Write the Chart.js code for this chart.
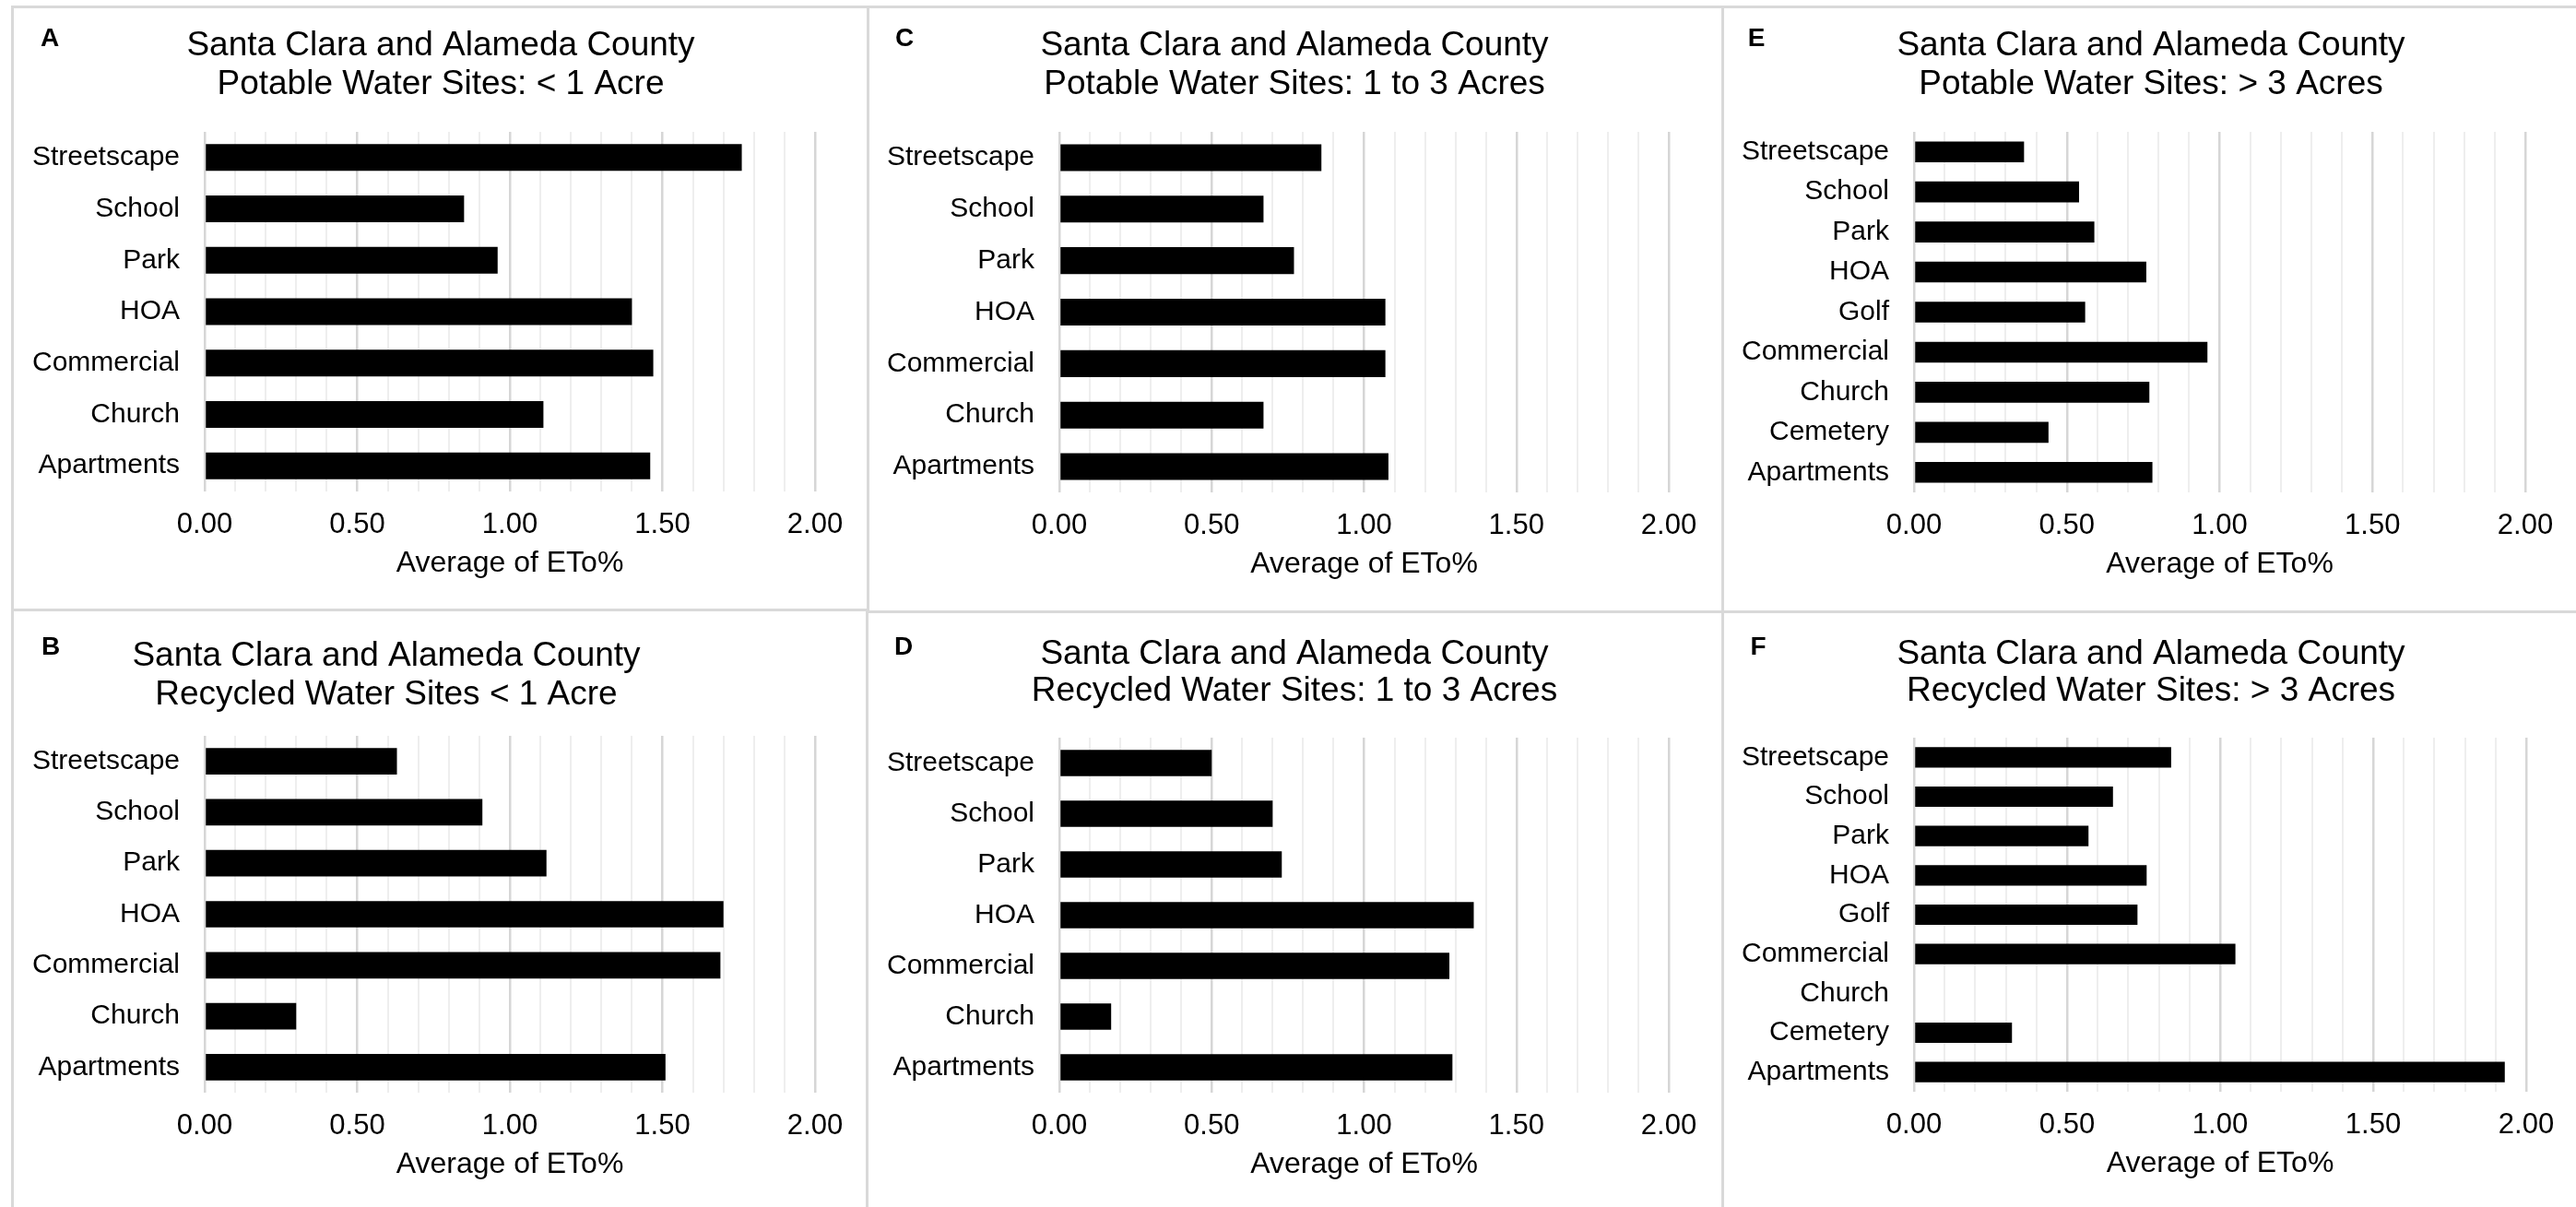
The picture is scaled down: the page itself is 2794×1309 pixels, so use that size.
<!DOCTYPE html>
<html>
<head>
<meta charset="utf-8">
<title>ETo% by site type</title>
<script src="https://cdn.jsdelivr.net/npm/chart.js@4/dist/chart.umd.min.js"></script>
<style>
  html, body { margin: 0; padding: 0; background: #fff; }
  body { width: 2794px; height: 1309px; position: relative; overflow: hidden; }
  .panel { position: absolute; }
  .panel canvas { position: absolute; left: 0; top: 0; }
  .rule { position: absolute; background: #d9d9d9; z-index: 5; }
</style>
</head>
<body>
<div id="figure"></div>
<script>
// ---- data ----
const sevenTypes = ['Streetscape', 'School', 'Park', 'HOA', 'Commercial', 'Church', 'Apartments'];
const nineTypes = ['Streetscape', 'School', 'Park', 'HOA', 'Golf', 'Commercial', 'Church', 'Cemetery', 'Apartments'];

const potableUnder1 = [1.76, 0.85, 0.96, 1.40, 1.47, 1.11, 1.46];
const recycledUnder1 = [0.63, 0.91, 1.12, 1.70, 1.69, 0.30, 1.51];
const potable1to3 = [0.86, 0.67, 0.77, 1.07, 1.07, 0.67, 1.08];
const recycled1to3 = [0.50, 0.70, 0.73, 1.36, 1.28, 0.17, 1.29];
const potableOver3 = [0.36, 0.54, 0.59, 0.76, 0.56, 0.96, 0.77, 0.44, 0.78];
const recycledOver3 = [0.84, 0.65, 0.57, 0.76, 0.73, 1.05, null, 0.32, 1.93];

const xMin = 0;
const xMax = 2;
const xStep = 0.1;      // minor gridline spacing
const labelEvery = 0.5; // labelled (major) ticks

const countyLine = 'Santa Clara and Alameda County';
const subtitles = {
  A: 'Potable Water Sites: < 1 Acre',
  B: 'Recycled Water Sites < 1 Acre',
  C: 'Potable Water Sites: 1 to 3 Acres',
  D: 'Recycled Water Sites: 1 to 3 Acres',
  E: 'Potable Water Sites: > 3 Acres',
  F: 'Recycled Water Sites: > 3 Acres'
};
const axisTitle = 'Average of ETo%';

// ---- page layout (page pixels) ----
const FONT = '"Liberation Sans", Arial, Helvetica, sans-serif';
const panels = [
  { id: 'A', labels: sevenTypes, values: potableUnder1,
    box: [13, 7, 928, 654], plot: [222, 143, 884, 533], title: [478, 50, 92], letter: [54, 42] },
  { id: 'C', labels: sevenTypes, values: potable1to3,
    box: [941, 7, 927, 656], plot: [1149, 143, 1810, 534], title: [1404, 50, 92], letter: [981, 42] },
  { id: 'E', labels: nineTypes, values: potableOver3,
    box: [1868, 7, 926, 656], plot: [2076, 143, 2739, 534], title: [2333, 50, 92], letter: [1905, 42] },
  { id: 'B', labels: sevenTypes, values: recycledUnder1,
    box: [13, 661, 927, 648], plot: [222, 798, 884, 1185], title: [419, 712, 754], letter: [55, 702] },
  { id: 'D', labels: sevenTypes, values: recycled1to3,
    box: [940, 663, 928, 646], plot: [1149, 800, 1810, 1185], title: [1404, 710, 750], letter: [980, 702] },
  { id: 'F', labels: nineTypes, values: recycledOver3,
    box: [1868, 663, 926, 646], plot: [2076, 800, 2740, 1184], title: [2333, 710, 750], letter: [1907, 702] }
];

// panel frame lines
const rules = [
  [13, 6, 2781, 3],      // top
  [13, 660, 928, 3],     // middle, left
  [941, 662, 1853, 3],   // middle, centre/right
  [12, 6, 3, 1303],      // left edge
  [940, 6, 3, 656],      // A | C
  [939, 662, 3, 647],    // B | D
  [1867, 6, 3, 1303]     // C|E and D|F
];

const figure = document.getElementById('figure');
rules.forEach(([x, y, w, h]) => {
  const d = document.createElement('div');
  d.className = 'rule';
  Object.assign(d.style, { left: x + 'px', top: y + 'px', width: w + 'px', height: h + 'px' });
  figure.appendChild(d);
});

const isMajor = v => Math.round(v * 10) % Math.round(labelEvery * 10) === 0;
const AXIS_H = 100;

panels.forEach(p => {
  const [bx, by, bw, bh] = p.box;
  const [pl, pt, pr, pb] = p.plot;

  const wrap = document.createElement('div');
  wrap.className = 'panel';
  Object.assign(wrap.style, { left: bx + 'px', top: by + 'px', width: bw + 'px', height: bh + 'px' });
  const canvas = document.createElement('canvas');
  canvas.width = bw;
  canvas.height = bh;
  wrap.appendChild(canvas);
  figure.appendChild(wrap);

  // two-line heading plus the bold panel letter
  const heading = {
    id: 'panelHeading',
    afterDraw(chart) {
      const ctx = chart.ctx;
      ctx.save();
      ctx.fillStyle = '#000';
      ctx.textBaseline = 'middle';
      ctx.textAlign = 'center';
      ctx.font = '37px ' + FONT;
      ctx.fillText(countyLine, p.title[0] - bx, p.title[1] - by);
      ctx.fillText(subtitles[p.id], p.title[0] - bx, p.title[2] - by);
      ctx.font = 'bold 28px ' + FONT;
      ctx.fillText(p.id, p.letter[0] - bx, p.letter[1] - by);
      ctx.restore();
    }
  };

  new Chart(canvas, {
    type: 'bar',
    data: {
      labels: p.labels,
      datasets: [{
        data: p.values,
        backgroundColor: '#000',
        borderWidth: 0,
        barPercentage: 0.52,
        categoryPercentage: 1.0
      }]
    },
    plugins: [heading],
    options: {
      indexAxis: 'y',
      responsive: false,
      animation: false,
      devicePixelRatio: 1,
      layout: {
        padding: { left: 0, top: pt - by, right: bx + bw - pr, bottom: by + bh - pb - AXIS_H }
      },
      plugins: { legend: { display: false }, tooltip: { enabled: false }, title: { display: false } },
      scales: {
        x: {
          type: 'linear',
          min: xMin,
          max: xMax,
          afterFit: s => { s.height = AXIS_H; },
          border: { display: false },
          grid: {
            drawTicks: false,
            color: c => isMajor(c.tick.value) ? '#d6d6d6' : '#eeeeee',
            lineWidth: c => isMajor(c.tick.value) ? 2.5 : 2
          },
          ticks: {
            stepSize: xStep,
            autoSkip: false,
            maxRotation: 0,
            minRotation: 0,
            padding: 18,
            color: '#000',
            font: { family: FONT, size: 31 },
            callback: v => isMajor(v) ? v.toFixed(2) : ''
          },
          title: {
            display: true,
            text: axisTitle,
            color: '#000',
            font: { family: FONT, size: 32 },
            padding: { top: 0, bottom: 3 }
          }
        },
        y: {
          type: 'category',
          afterFit: s => { s.width = pl - bx; },
          border: { display: false },
          grid: { display: false, drawTicks: false },
          ticks: {
            padding: 27,
            color: '#000',
            font: { family: FONT, size: 30 }
          }
        }
      }
    }
  });
});
</script>
</body>
</html>
